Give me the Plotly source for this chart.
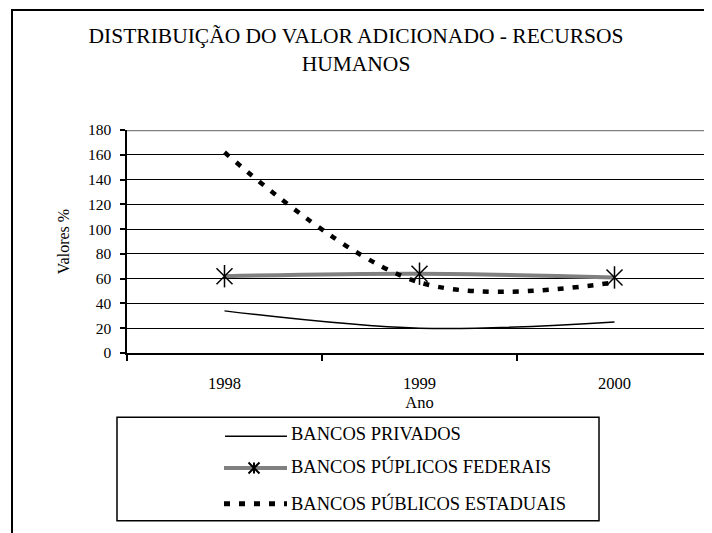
import plotly.graph_objects as go

# ---- data ----
anos = ["1998", "1999", "2000"]
bancos_privados = [34, 20, 25]
bancos_federais = [62, 64, 61]
bancos_estaduais = [162, 57, 57]
y_ticks = [0, 20, 40, 60, 80, 100, 120, 140, 160, 180]

names = ["BANCOS PRIVADOS", "BANCOS PÚPLICOS FEDERAIS", "BANCOS PÚBLICOS ESTADUAIS"]
title_text = "DISTRIBUIÇÃO DO VALOR ADICIONADO - RECURSOS<br>HUMANOS"

# ---- geometry (page has an 8px body margin, so the figure is shifted) ----
OFF = 8
FW, FH = 712 - OFF, 533 - OFF
L, R, T = 127 - OFF, 0, 129.5 - OFF
B = FH - (353.5 - OFF)
PW = FW - L - R
PH = FH - T - B
FONT = "Liberation Serif, Times New Roman, serif"


def px(x):
    # x given in page pixels
    return (x - OFF - L) / PW


def py(y):
    # y given in page pixels
    return (FH - B - (y - OFF)) / PH


fig = go.Figure()

fig.add_trace(go.Scatter(
    x=anos, y=bancos_privados, name=names[0], mode="lines",
    line=dict(color="black", width=1.5, shape="spline", smoothing=1),
    showlegend=False))

fig.add_trace(go.Scatter(
    x=anos, y=bancos_federais, name=names[1], mode="lines+markers",
    line=dict(color="#808080", width=4, shape="spline", smoothing=1),
    marker=dict(symbol="x-thin-open", size=16, color="black",
                line=dict(color="black", width=1.5)),
    showlegend=False))

fig.add_trace(go.Scatter(
    x=anos, y=bancos_federais, name=names[1], mode="markers",
    marker=dict(symbol="line-ns-open", size=16, color="black",
                line=dict(color="black", width=1.5)),
    showlegend=False, hoverinfo="skip"))

fig.add_trace(go.Scatter(
    x=anos, y=bancos_estaduais, name=names[2], mode="lines",
    line=dict(color="black", width=4.5, dash="6px,9px", shape="spline", smoothing=1),
    showlegend=False))

shapes = []
# outer chart frame
shapes.append(dict(type="rect", xref="paper", yref="paper",
                   x0=px(12), x1=px(740), y0=py(560), y1=py(9),
                   line=dict(color="black", width=2), layer="below"))
# top border of plot area (grey)
shapes.append(dict(type="line", xref="paper", yref="y", x0=0, x1=1,
                   y0=180, y1=180, line=dict(color="#808080", width=2.5)))
# legend box
shapes.append(dict(type="rect", xref="paper", yref="paper",
                   x0=px(117), x1=px(599), y0=py(522), y1=py(418),
                   line=dict(color="black", width=1.5)))
# legend samples
shapes.append(dict(type="line", xref="paper", yref="paper",
                   x0=px(225), x1=px(287), y0=py(437), y1=py(437),
                   line=dict(color="black", width=1.5)))
shapes.append(dict(type="line", xref="paper", yref="paper",
                   x0=px(224), x1=px(287), y0=py(469), y1=py(469),
                   line=dict(color="#808080", width=4)))
cx, cy, r = 254, 469, 5.5
shapes.append(dict(type="path", xref="paper", yref="paper",
                   path=(f"M{px(cx-r)},{py(cy-r)} L{px(cx+r)},{py(cy+r)} "
                         f"M{px(cx-r)},{py(cy+r)} L{px(cx+r)},{py(cy-r)} "
                         f"M{px(cx)},{py(cy-r)} L{px(cx)},{py(cy+r)}"),
                   line=dict(color="black", width=2)))
shapes.append(dict(type="line", xref="paper", yref="paper",
                   x0=px(224), x1=px(287), y0=py(505), y1=py(505),
                   line=dict(color="black", width=5, dash="6px,9px")))

annotations = []
for name, yy in zip(names, [435, 468, 505]):
    annotations.append(dict(text=name, xref="paper", yref="paper",
                            x=px(289), y=py(yy), xanchor="left", yanchor="middle",
                            showarrow=False, font=dict(family=FONT, size=18.5, color="black")))

fig.update_layout(
    width=FW, height=FH,
    margin=dict(l=L, r=R, t=T, b=B, pad=0),
    paper_bgcolor="white", plot_bgcolor="white",
    font=dict(family=FONT, color="black", size=15),
    title=dict(text=title_text, x=(356 - OFF) / FW, xanchor="center",
               y=1 - (43 - OFF) / FH, yanchor="middle", yref="container",
               font=dict(family=FONT, size=21.5, color="black")),
    showlegend=False,
    shapes=shapes,
    annotations=annotations,
    xaxis=dict(type="category", categoryorder="array", categoryarray=anos,
               range=[-0.5, 2.5], tickson="boundaries",
               ticks="outside", ticklen=6, tickwidth=1.5, tickcolor="black",
               showline=True, linecolor="black", linewidth=1.5,
               showgrid=False, zeroline=False,
               tickfont=dict(family=FONT, size=16.5, color="black"),
               ticklabelstandoff=14,
               title=dict(text="Ano", standoff=2,
                          font=dict(family=FONT, size=16.5, color="black"))),
    yaxis=dict(range=[0, 180], tickvals=y_ticks,
               ticks="outside", ticklen=5, tickwidth=1.5, tickcolor="black",
               showline=True, linecolor="black", linewidth=1.5,
               showgrid=True, gridcolor="black", gridwidth=1.2, zeroline=False,
               tickfont=dict(family=FONT, size=15.5, color="black"),
               ticklabelstandoff=6,
               title=dict(text="Valores %", standoff=14,
                          font=dict(family=FONT, size=16, color="black"))),
)

fig.write_html("out.html")
